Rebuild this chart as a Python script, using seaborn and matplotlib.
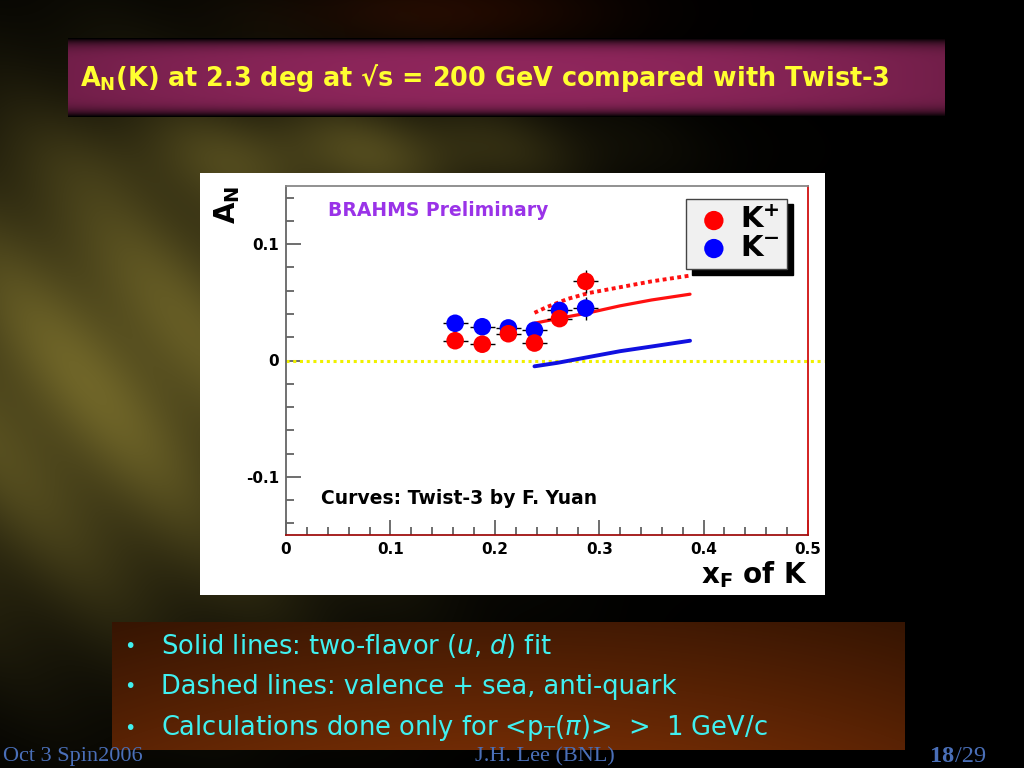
import matplotlib
matplotlib.use("Agg")
import matplotlib.pyplot as plt
import seaborn as sns
import numpy as np
import pandas as pd

# data
xf = [0.162, 0.188, 0.213, 0.238, 0.262, 0.287]
an_kplus = [0.017, 0.014, 0.023, 0.015, 0.036, 0.068]
an_kminus = [0.032, 0.029, 0.028, 0.026, 0.043, 0.045]
xerr = [0.012, 0.012, 0.012, 0.012, 0.012, 0.012]
yerr_kplus = [0.005, 0.005, 0.005, 0.005, 0.006, 0.010]
yerr_kminus = [0.005, 0.005, 0.005, 0.005, 0.006, 0.010]

curve_x_solid = [0.238, 0.26, 0.29, 0.32, 0.35, 0.387]
kplus_solid = [0.032, 0.036, 0.041, 0.047, 0.052, 0.057]
kminus_solid = [-0.005, -0.002, 0.003, 0.008, 0.012, 0.017]
curve_x_dashed = [0.238, 0.25, 0.27, 0.29, 0.32, 0.35, 0.387]
kplus_dashed = [0.041, 0.046, 0.053, 0.058, 0.063, 0.068, 0.073]

sns.set_theme(style="white")
plt.rcParams['font.family'] = ['DejaVu Sans']
plt.rcParams['text.color'] = 'black'

fig = plt.figure(figsize=(10.24, 7.68), dpi=100)
fig.patch.set_facecolor("black")

# slide background
bg = fig.add_axes([0, 0, 1, 1])
bg.set_xlim(0, 1024)
bg.set_ylim(768, 0)
bg.axis("off")
yy, xx = np.mgrid[0:768, 0:1024]
u = (xx * 0.5 + (768 - yy) * 0.4)
glow = np.exp(-((xx - 110) / 300.0) ** 2 - ((yy - 370) / 250.0) ** 2)
glow2 = np.exp(-((xx - 380) / 220.0) ** 2 - ((yy - 150) / 50.0) ** 2)
band = 0.8 + 0.2 * np.sin(u / 25.0) ** 2
g = (glow + 0.5 * glow2) * band
img = np.zeros((768, 1024, 3))
img[..., 0] = 0.44 * g
img[..., 1] = 0.40 * g
img[..., 2] = 0.16 * g
red_glow = np.exp(-((xx - 450) / 160.0) ** 2 - ((yy - 10) / 40.0) ** 2)
img[..., 0] += 0.12 * red_glow
img[..., 1] += 0.03 * red_glow
bg.imshow(np.clip(img, 0, 1), extent=(0, 1024, 768, 0), aspect="auto")

# title band
ty = np.linspace(-1, 1, 80)[:, None]
tx = np.linspace(-1, 1, 880)[None, :]
tb = (1 - ty ** 6) * (0.8 + 0.2 * (1 - tx ** 2))
title_img = np.zeros((80, 880, 3))
title_img[..., 0] = 0.56 * tb
title_img[..., 1] = 0.15 * tb
title_img[..., 2] = 0.36 * tb
bg.imshow(title_img, extent=(68, 945, 117, 38), aspect="auto")
bg.text(80, 78, r"A$_\mathregular{N}$(K) at 2.3 deg at √s = 200 GeV compared with Twist-3",
        color="#ffff30", fontsize=18.4, fontweight="bold", va="center", ha="left")

# bullet box
by = np.linspace(0, 1, 128)[:, None]
bx = np.linspace(-1, 1, 793)[None, :]
bb = (0.6 + 0.4 * by) * (0.8 + 0.2 * (1 - bx ** 2))
box_img = np.zeros((128, 793, 3))
box_img[..., 0] = 0.44 * bb
box_img[..., 1] = 0.17 * bb
box_img[..., 2] = 0.02 * bb
bg.imshow(box_img, extent=(112, 905, 750, 622), aspect="auto")
bullets = [r"Solid lines: two-flavor ($u$, $d$) fit",
           "Dashed lines: valence + sea, anti-quark",
           r"Calculations done only for <p$_\mathregular{T}$($\pi$)>  >  1 GeV/c"]
for i, line in enumerate(bullets):
    y = 646 + i * 41
    bg.text(124, y, "•", color="#40f0f0", fontsize=14, va="center")
    bg.text(161, y, line, color="#40f0f0", fontsize=18.5, va="center")

# footer
bg.text(3, 757, "Oct 3 Spin2006", color="#4a6fb8", fontsize=16,
        family="Liberation Serif", va="center")
bg.text(545, 757, "J.H. Lee (BNL)", color="#4a6fb8", fontsize=16,
        family="Liberation Serif", va="center", ha="center")
bg.text(930, 757, "18", color="#4a6fb8", fontsize=17.5, fontweight="bold",
        family="Liberation Serif", va="center")
bg.text(955, 757, "/29", color="#4a6fb8", fontsize=17.5,
        family="Liberation Serif", va="center")

# white panel behind the plot
bg.add_patch(plt.Rectangle((200, 173), 625, 422, facecolor="white", edgecolor="none"))

ax = fig.add_axes([286 / 1024, 1 - 535 / 768, 522 / 1024, 349 / 768])
ax.set_facecolor("white")

ax.axhline(0, color="#f0f000", lw=2.2, ls=(0, (1, 1.2)), xmin=0, xmax=1.03,
           clip_on=False, zorder=1)

sns.lineplot(x=curve_x_solid, y=kplus_solid, color="#ff1010", lw=2.3, ax=ax, zorder=2)
sns.lineplot(x=curve_x_dashed, y=kplus_dashed, color="#ff1010", lw=2.8,
             ls=(0, (1, 0.9)), ax=ax, zorder=2)
sns.lineplot(x=curve_x_solid, y=kminus_solid, color="#1010e0", lw=2.8, ax=ax, zorder=2)

ax.errorbar(xf, an_kminus, xerr=xerr, yerr=yerr_kminus, fmt="none",
            ecolor="black", elinewidth=1, zorder=3)
ax.errorbar(xf, an_kplus, xerr=xerr, yerr=yerr_kplus, fmt="none",
            ecolor="black", elinewidth=1, zorder=3)
sns.scatterplot(x=xf, y=an_kminus, color="#0000ff", s=160, edgecolor="none",
                ax=ax, zorder=4, label=r"$\mathbf{K^{-}}$")
sns.scatterplot(x=xf, y=an_kplus, color="#ff0000", s=160, edgecolor="none",
                ax=ax, zorder=5, label=r"$\mathbf{K^{+}}$")

ax.set_xlim(0, 0.5)
ax.set_ylim(-0.15, 0.15)
ax.set_xticks([0, 0.1, 0.2, 0.3, 0.4, 0.5])
ax.set_xticklabels(["0", "0.1", "0.2", "0.3", "0.4", "0.5"])
ax.set_yticks([-0.1, 0, 0.1])
ax.set_yticklabels(["-0.1", "0", "0.1"])
ax.set_xticks(np.arange(0, 0.5, 0.02), minor=True)
ax.set_yticks(np.arange(-0.14, 0.15, 0.02), minor=True)
ax.tick_params(which="major", direction="in", length=11, width=1.2, color="#555555",
               labelsize=11, labelcolor="black", pad=5, bottom=True, left=True)
ax.tick_params(which="minor", direction="in", length=6, width=1.2, color="#555555",
               bottom=True, left=True)
for lab in ax.get_xticklabels() + ax.get_yticklabels():
    lab.set_fontweight("bold")
ax.spines["left"].set_color("#666666")
ax.spines["top"].set_color("#888888")
ax.spines["bottom"].set_color("#a01010")
ax.spines["right"].set_color("#d01010")
for s in ax.spines.values():
    s.set_linewidth(1.3)

handles, labels = ax.get_legend_handles_labels()
leg = ax.legend(handles[::-1], labels[::-1], loc="upper right",
                bbox_to_anchor=(0.96, 0.963), borderaxespad=0, frameon=True, fancybox=False,
                shadow={"color": "black", "alpha": 1, "ox": 4, "oy": -4},
                facecolor="#f0f0f0", edgecolor="#444444",
                fontsize=21, markerscale=1.1, handletextpad=0.2, borderpad=0.25,
                labelspacing=0.0, handlelength=1.4)
leg.get_frame().set_linewidth(1)

ax.text(0.08, 0.93, "BRAHMS Preliminary", transform=ax.transAxes, color="#9a33e8",
        fontsize=13.5, fontweight="bold", va="center")
ax.text(0.067, 0.105, "Curves: Twist-3 by F. Yuan", transform=ax.transAxes,
        color="black", fontsize=13.5, fontweight="bold", va="center")
ax.text(-0.112, 1.0, r"A$_\mathregular{N}$", transform=ax.transAxes, rotation=90,
        fontsize=20, fontweight="bold", va="top", ha="center", color="black")
ax.text(1.0, -0.07, r"x$_\mathregular{F}$ of K", transform=ax.transAxes,
        fontsize=20, fontweight="bold", va="top", ha="right", color="black")
ax.set_xlabel("")
ax.set_ylabel("")

fig.savefig("out.png", dpi=100, facecolor="black")
